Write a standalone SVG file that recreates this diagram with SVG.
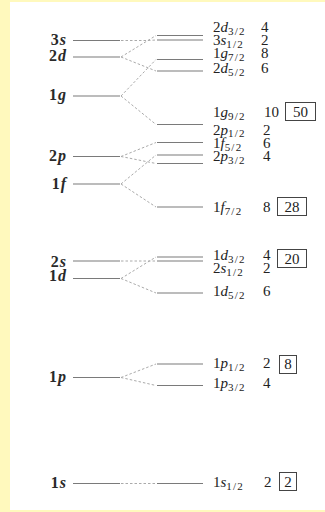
<svg xmlns="http://www.w3.org/2000/svg" width="325" height="512" viewBox="0 0 325 512">
<style>
.t{font-family:"Liberation Serif","Times New Roman",serif;font-size:15px;fill:#222}
.l{font-family:"Liberation Serif","Times New Roman",serif;font-size:16px;font-weight:bold;fill:#2a2a2a;letter-spacing:1px}
.i{font-style:italic}
.sb{font-size:11px;letter-spacing:1.2px}
.lv{stroke:#7a7a7a;stroke-width:1.2;fill:none}
.cn{stroke:#aaa;stroke-width:1;stroke-dasharray:2.5,2;fill:none}
.bx{fill:none;stroke:#444;stroke-width:1}
</style>
<rect x="0" y="0" width="325" height="512" fill="#fff9bd"/>
<rect x="10" y="2" width="315" height="508" fill="#ffffff"/>

<g id="connectors">
  <path class="cn" d="M121,40.5 L148,40.5 L156,40"/>
  <path class="cn" d="M121,57 L156,35.5 M121,57 L156,71"/>
  <path class="cn" d="M121,96 L156,59.5 M121,96 L156,124.5"/>
  <path class="cn" d="M121,156.5 L156,142.5 M121,156.5 L156,163.5"/>
  <path class="cn" d="M121,184 L156,155 M121,184 L156,207"/>
  <path class="cn" d="M121,261 L148,261 L156,261"/>
  <path class="cn" d="M121,278.5 L156,257 M121,278.5 L156,293"/>
  <path class="cn" d="M121,377.5 L156,364 M121,377.5 L156,385.5"/>
  <path class="cn" d="M121,483.5 L156,483.5"/>
</g>

<g id="left-3s"><line class="lv" x1="73" y1="40.5" x2="120" y2="40.5"/><text class="l" x="67" y="44.5" text-anchor="end">3<tspan class="i">s</tspan></text></g>
<g id="left-2d"><line class="lv" x1="73" y1="57" x2="120" y2="57"/><text class="l" x="67" y="60.5" text-anchor="end">2<tspan class="i">d</tspan></text></g>
<g id="left-1g"><line class="lv" x1="73" y1="96" x2="120" y2="96"/><text class="l" x="67" y="99.5" text-anchor="end">1<tspan class="i">g</tspan></text></g>
<g id="left-2p"><line class="lv" x1="73" y1="156.5" x2="120" y2="156.5"/><text class="l" x="67" y="160.5" text-anchor="end">2<tspan class="i">p</tspan></text></g>
<g id="left-1f"><line class="lv" x1="73" y1="184" x2="120" y2="184"/><text class="l" x="67" y="188.5" text-anchor="end">1<tspan class="i">f</tspan></text></g>
<g id="left-2s"><line class="lv" x1="73" y1="261" x2="120" y2="261"/><text class="l" x="67" y="266.5" text-anchor="end">2<tspan class="i">s</tspan></text></g>
<g id="left-1d"><line class="lv" x1="73" y1="278.5" x2="120" y2="278.5"/><text class="l" x="67" y="281" text-anchor="end">1<tspan class="i">d</tspan></text></g>
<g id="left-1p"><line class="lv" x1="73" y1="377.5" x2="120" y2="377.5"/><text class="l" x="67" y="381.5" text-anchor="end">1<tspan class="i">p</tspan></text></g>
<g id="left-1s"><line class="lv" x1="73" y1="483.5" x2="120" y2="483.5"/><text class="l" x="67" y="487.5" text-anchor="end">1<tspan class="i">s</tspan></text></g>

<g id="r-2d32"><line class="lv" x1="157" y1="35.5" x2="203" y2="35.5"/><text class="t" x="213" y="32">2<tspan class="i">d</tspan><tspan class="sb" dy="2.5">3/2</tspan></text><text class="t" x="261" y="32">4</text></g>
<g id="r-3s12"><line class="lv" x1="157" y1="40" x2="203" y2="40"/><text class="t" x="213" y="45">3<tspan class="i">s</tspan><tspan class="sb" dy="2.5">1/2</tspan></text><text class="t" x="261" y="45">2</text></g>
<g id="r-1g72"><line class="lv" x1="157" y1="59.5" x2="203" y2="59.5"/><text class="t" x="213" y="58">1<tspan class="i">g</tspan><tspan class="sb" dy="2.5">7/2</tspan></text><text class="t" x="261" y="58">8</text></g>
<g id="r-2d52"><line class="lv" x1="157" y1="71" x2="203" y2="71"/><text class="t" x="213" y="73">2<tspan class="i">d</tspan><tspan class="sb" dy="2.5">5/2</tspan></text><text class="t" x="261" y="73">6</text></g>
<g id="r-1g92"><line class="lv" x1="157" y1="124.5" x2="203" y2="124.5"/><text class="t" x="213" y="117">1<tspan class="i">g</tspan><tspan class="sb" dy="2.5">9/2</tspan></text><text class="t" x="264" y="117">10</text><rect class="bx" x="285.5" y="102.5" width="30" height="18"/><text class="t" x="300.5" y="117" text-anchor="middle">50</text></g>
<g id="r-2p12"><line class="lv" x1="157" y1="142.5" x2="203" y2="142.5"/><text class="t" x="213" y="134.5">2<tspan class="i">p</tspan><tspan class="sb" dy="2.5">1/2</tspan></text><text class="t" x="263" y="134.5">2</text></g>
<g id="r-1f52"><line class="lv" x1="157" y1="155" x2="203" y2="155"/><text class="t" x="213" y="148">1<tspan class="i">f</tspan><tspan class="sb" dy="2.5">5/2</tspan></text><text class="t" x="263" y="148">6</text></g>
<g id="r-2p32"><line class="lv" x1="157" y1="163.5" x2="203" y2="163.5"/><text class="t" x="213" y="161">2<tspan class="i">p</tspan><tspan class="sb" dy="2.5">3/2</tspan></text><text class="t" x="263" y="161">4</text></g>
<g id="r-1f72"><line class="lv" x1="157" y1="207" x2="203" y2="207"/><text class="t" x="213" y="212">1<tspan class="i">f</tspan><tspan class="sb" dy="2.5">7/2</tspan></text><text class="t" x="263" y="212">8</text><rect class="bx" x="277.5" y="197.5" width="29" height="18"/><text class="t" x="292" y="212" text-anchor="middle">28</text></g>
<g id="r-1d32"><line class="lv" x1="157" y1="257" x2="203" y2="257"/><text class="t" x="213" y="260">1<tspan class="i">d</tspan><tspan class="sb" dy="2.5">3/2</tspan></text><text class="t" x="263" y="260">4</text><rect class="bx" x="277.5" y="249.5" width="29" height="18"/><text class="t" x="292" y="264" text-anchor="middle">20</text></g>
<g id="r-2s12"><line class="lv" x1="157" y1="261" x2="203" y2="261"/><text class="t" x="213" y="273">2<tspan class="i">s</tspan><tspan class="sb" dy="2.5">1/2</tspan></text><text class="t" x="263" y="273">2</text></g>
<g id="r-1d52"><line class="lv" x1="157" y1="293" x2="203" y2="293"/><text class="t" x="213" y="296">1<tspan class="i">d</tspan><tspan class="sb" dy="2.5">5/2</tspan></text><text class="t" x="263" y="296">6</text></g>
<g id="r-1p12"><line class="lv" x1="157" y1="364" x2="203" y2="364"/><text class="t" x="213" y="368">1<tspan class="i">p</tspan><tspan class="sb" dy="2.5">1/2</tspan></text><text class="t" x="263" y="368">2</text><rect class="bx" x="279.5" y="355.5" width="17" height="18"/><text class="t" x="288" y="369" text-anchor="middle">8</text></g>
<g id="r-1p32"><line class="lv" x1="157" y1="385.5" x2="203" y2="385.5"/><text class="t" x="213" y="388">1<tspan class="i">p</tspan><tspan class="sb" dy="2.5">3/2</tspan></text><text class="t" x="263" y="388">4</text></g>
<g id="r-1s12"><line class="lv" x1="157" y1="483.5" x2="203" y2="483.5"/><text class="t" x="213" y="487">1<tspan class="i">s</tspan><tspan class="sb" dy="2.5">1/2</tspan></text><text class="t" x="264" y="487">2</text><rect class="bx" x="279.5" y="472.5" width="17" height="18"/><text class="t" x="288" y="486.5" text-anchor="middle">2</text></g>
</svg>
